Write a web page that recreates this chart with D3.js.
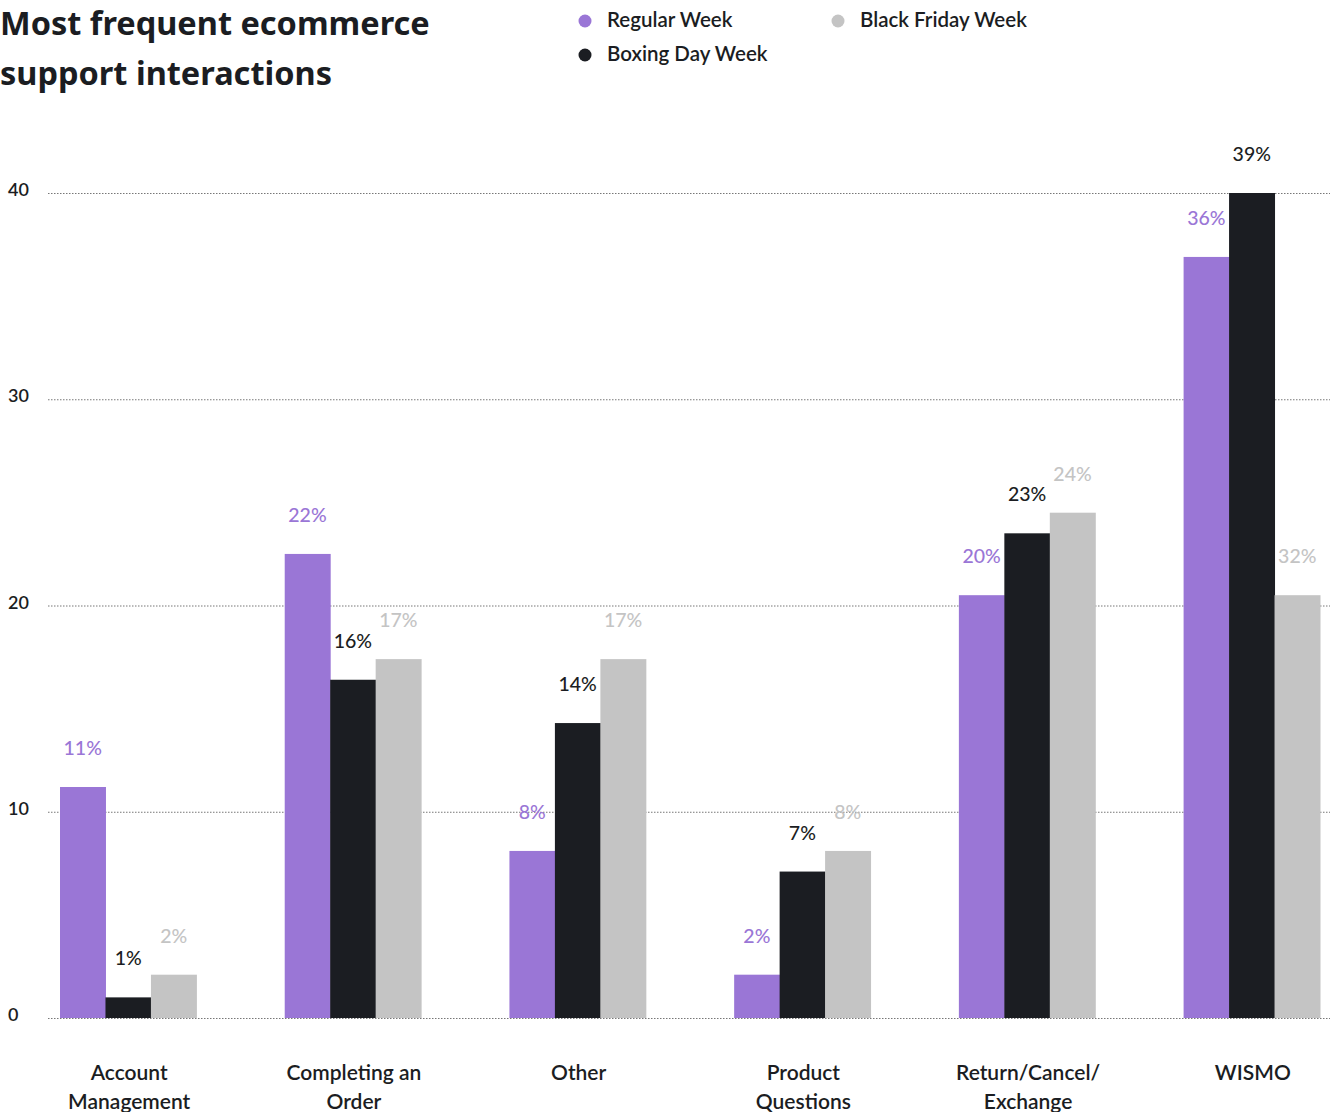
<!DOCTYPE html>
<html>
<head>
<meta charset="utf-8">
<script src="https://cdn.jsdelivr.net/npm/d3@7"></script>
<style>
  body { margin: 0; background: #fff; font-family: Lato, "Noto Sans", sans-serif; }
  svg text { fill: #1b1d22; }
</style>
</head>
<body>
<svg id="chart"></svg>
<script>
// data
var categories = [["Account", "Management"], ["Completing an", "Order"], ["Other"],
    ["Product", "Questions"], ["Return/Cancel/", "Exchange"], ["WISMO"]];
var seriesNames = ["Regular Week", "Boxing Day Week", "Black Friday Week"];
var regularWeek = [11.2, 22.5, 8.1, 2.1, 20.5, 36.9];
var boxingDayWeek = [1.0, 16.4, 14.3, 7.1, 23.5, 40.0];
var blackFridayWeek = [2.1, 17.4, 17.4, 8.1, 24.5, 20.5];
var regularLabels = ["11%", "22%", "8%", "2%", "20%", "36%"];
var boxingLabels = ["1%", "16%", "14%", "7%", "23%", "39%"];
var blackFridayLabels = ["2%", "17%", "17%", "8%", "24%", "32%"];
var yTicks = [0, 10, 20, 30, 40];

var colors = ["#9a76d6", "#1b1d22", "#c4c4c4"];

var W = 1337, H = 1112,
    svg = d3.select("#chart").attr("width", W).attr("height", H);

var series = [regularWeek, boxingDayWeek, blackFridayWeek];
var labels = [regularLabels, boxingLabels, blackFridayLabels];

var x0 = d3.scaleBand().domain(d3.range(categories.length))
        .range([60, 1320]).paddingInner(0.393).paddingOuter(0),
    x1 = d3.scaleBand().domain(d3.range(3)).range([0, x0.bandwidth()]),
    y = d3.scaleLinear().domain([0, 40]).range([1018, 193]);

// title
var title = svg.append("text").attr("x", 0).attr("y", 35)
    .style("font-family", "'Noto Sans', sans-serif")
    .style("font-size", "32.5px").style("font-weight", 700);
title.append("tspan").attr("x", 0).text("Most frequent ecommerce");
title.append("tspan").attr("x", 0).attr("dy", 50).text("support interactions");

// legend
var legendPos = [[585, 21], [585, 55], [838, 21]];
var legend = svg.selectAll(".legend").data(seriesNames).enter().append("g")
    .attr("transform", function(d, i) { return "translate(" + legendPos[i][0] + "," + legendPos[i][1] + ")"; });
legend.append("circle").attr("r", 6.5).attr("fill", function(d, i) { return colors[i]; });
legend.append("text").attr("x", 22).attr("y", 6)
    .style("font-size", "20.5px").style("font-weight", 600)
    .text(function(d) { return d; });

// grid + y axis
var yAxis = svg.append("g").attr("transform", "translate(48,0)")
    .call(d3.axisLeft(y).tickValues(yTicks).tickSize(-1282).tickPadding(0));
yAxis.select(".domain").remove();
yAxis.selectAll(".tick line").attr("stroke", "#777").attr("stroke-dasharray", "1.5,1.5");
yAxis.selectAll(".tick text").attr("x", -40).attr("dy", "0.15em")
    .style("text-anchor", "start").style("font-size", "18px").style("font-weight", 600)
    .style("font-family", "Lato, sans-serif")
    .attr("fill", "#1b1d22");

// bars
var groups = svg.selectAll(".grp").data(categories).enter().append("g")
    .attr("transform", function(d, i) { return "translate(" + x0(i) + ",0)"; });

groups.selectAll("rect").data(function(d, i) { return series.map(function(s) { return s[i]; }); })
    .enter().append("rect")
    .attr("x", function(d, j) { return x1(j); })
    .attr("width", x1.bandwidth() + 0.5)
    .attr("y", function(d) { return y(d); })
    .attr("height", function(d) { return y(0) - y(d); })
    .attr("fill", function(d, j) { return colors[j]; });

groups.selectAll(".val").data(function(d, i) {
        return series.map(function(s, j) { return {v: s[i], t: labels[j][i]}; });
    })
    .enter().append("text")
    .attr("x", function(d, j) { return x1(j) + x1.bandwidth() / 2; })
    .attr("y", function(d) { return y(d.v) - 32; })
    .attr("text-anchor", "middle")
    .style("font-size", "19.5px").style("font-weight", 500)
    .style("fill", function(d, j) { return colors[j]; })
    .text(function(d) { return d.t; });

// category labels
groups.append("text")
    .attr("text-anchor", "middle")
    .style("font-size", "21px").style("font-weight", 600)
    .each(function(d) {
        var t = d3.select(this);
        d.forEach(function(line, k) {
            t.append("tspan").attr("x", x0.bandwidth() / 2 + 1).attr("y", 1080 + k * 29).text(line);
        });
    });
</script>
</body>
</html>
